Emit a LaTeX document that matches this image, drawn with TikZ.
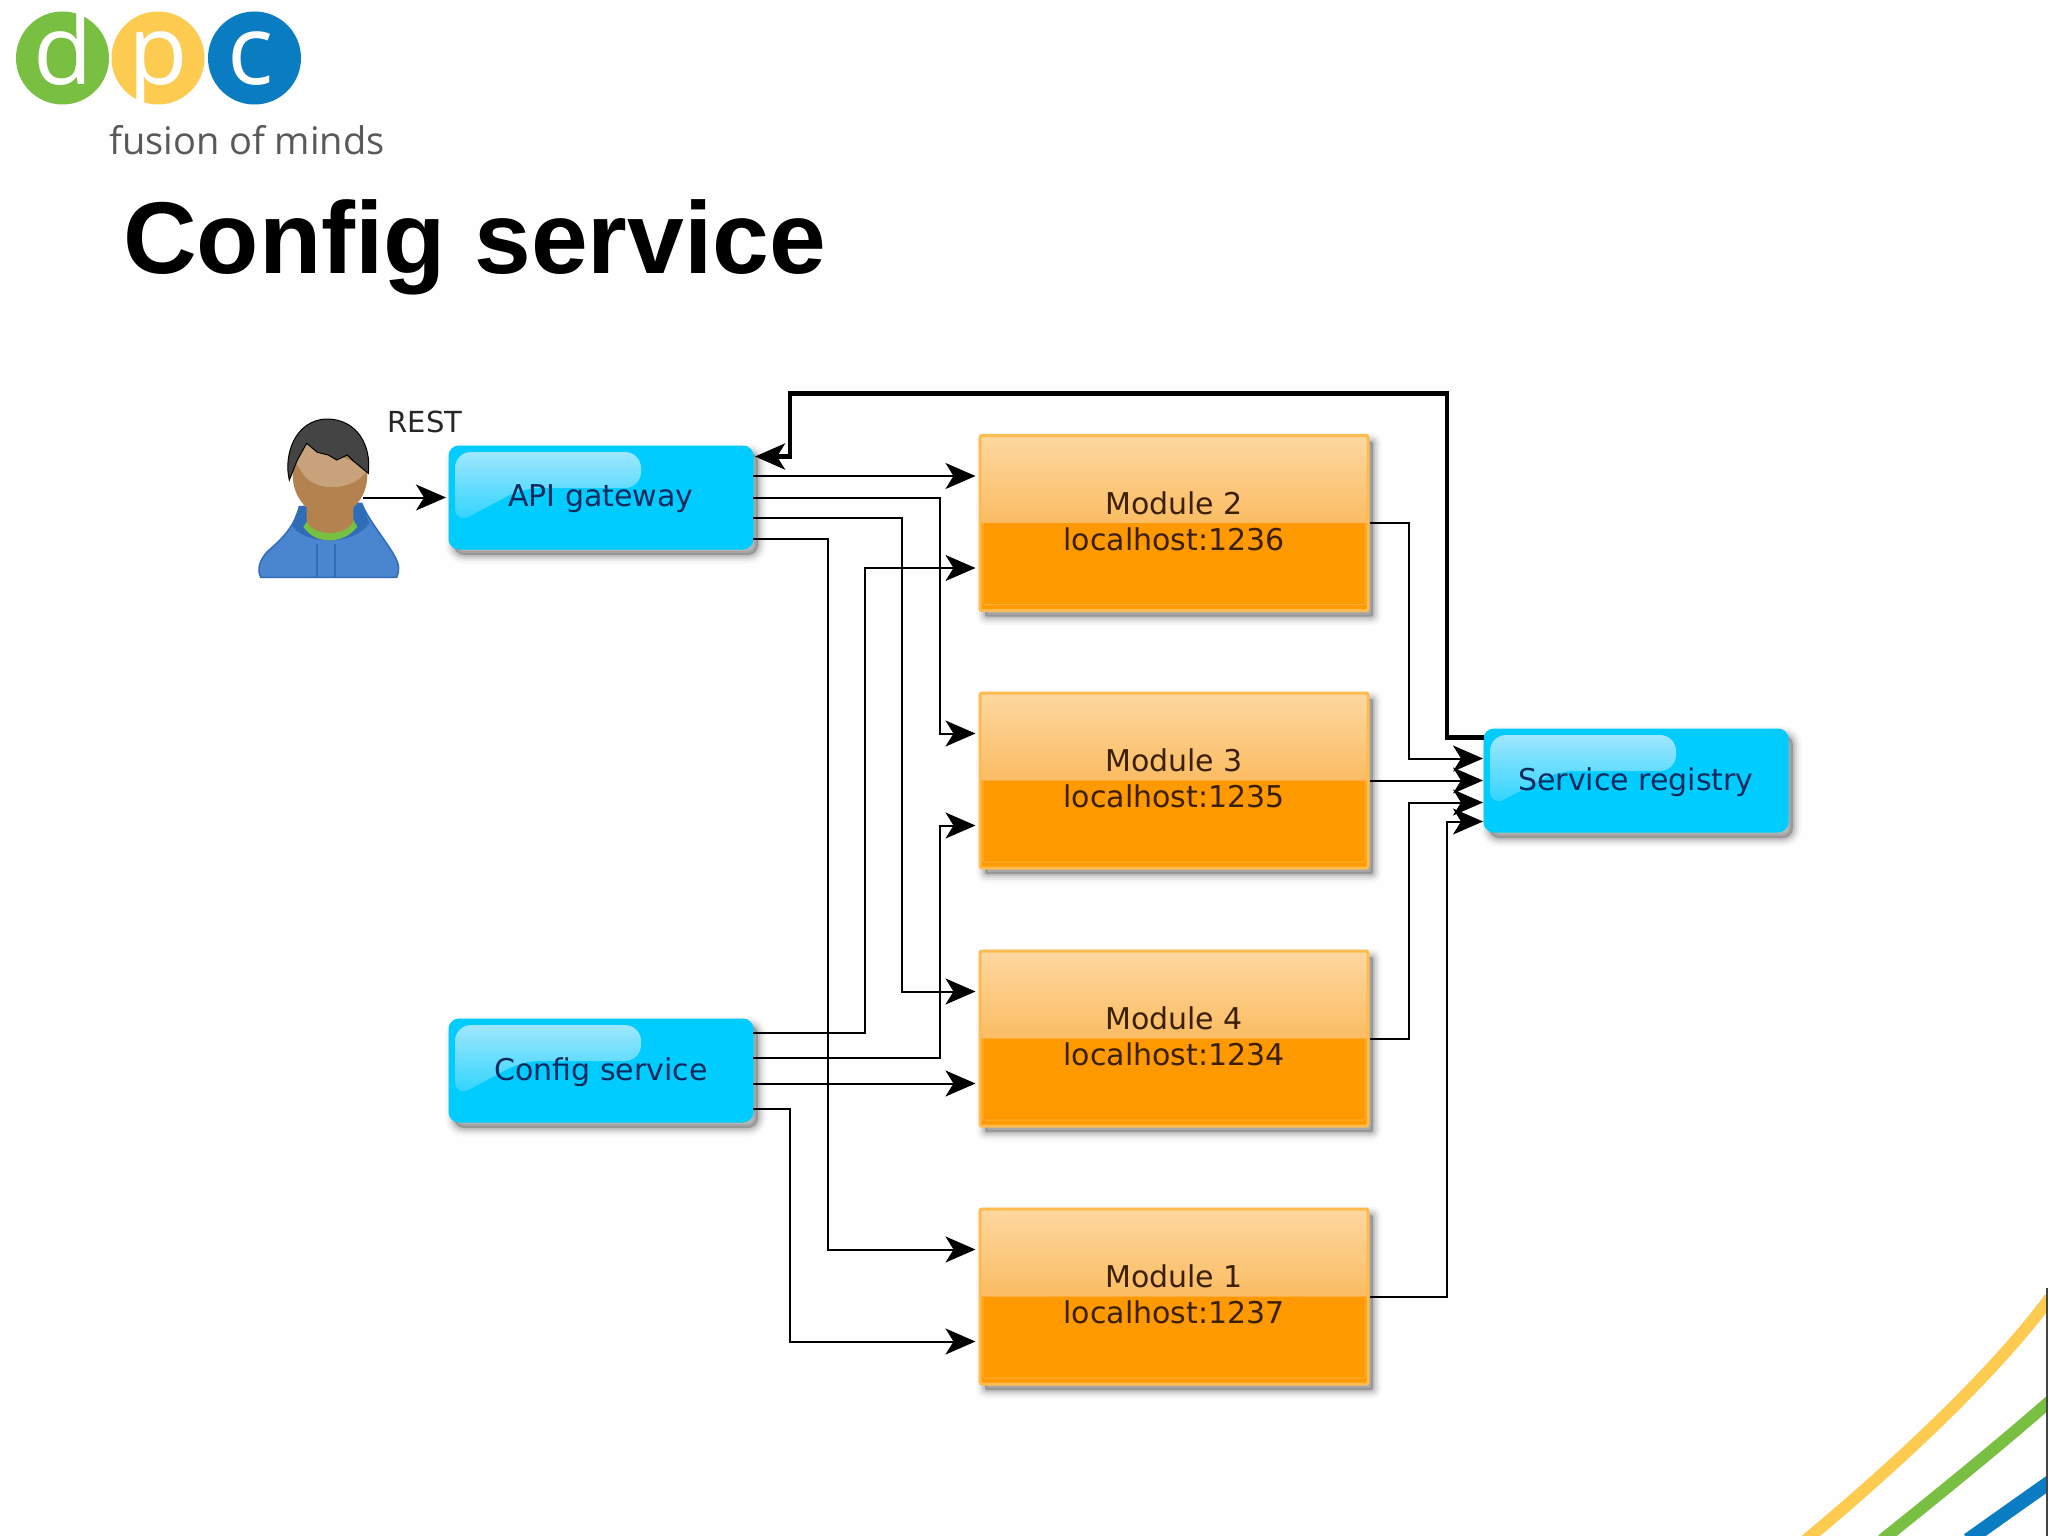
\documentclass[tikz,border=0pt]{standalone}
\usepackage{fontspec}
\usepackage{tikz}
\setmainfont{DejaVu Sans}
\newfontfamily\titlefont{Liberation Sans}
\newfontfamily\logofont{Open Sans}
\usetikzlibrary{arrows.meta,positioning}

\definecolor{pagebg}{HTML}{FEFEFE}
\definecolor{dpcgreen}{HTML}{78BF42}
\definecolor{dpcyellow}{HTML}{FDCB4F}
\definecolor{dpcblue}{HTML}{0A7CC2}
\definecolor{logotext}{HTML}{58595B}
\definecolor{boxcyan}{HTML}{00CCFF}
\definecolor{boxglare}{HTML}{A8E8FD}
\definecolor{boxorange}{HTML}{FF9900}
\definecolor{orangetop}{HTML}{FDD8A0}
\definecolor{orangemid}{HTML}{F9A026}
\definecolor{orangeline}{HTML}{FDBB50}
\definecolor{bluetext}{HTML}{0A2A5E}
\definecolor{browntext}{HTML}{3B2000}
\definecolor{hoodie}{HTML}{4A86CF}
\definecolor{hoodiedark}{HTML}{2F6DB8}
\definecolor{skin}{HTML}{B3824F}
\definecolor{skinlight}{HTML}{C8A27A}
\definecolor{hair}{HTML}{444444}

\begin{document}
\begin{tikzpicture}[x=1pt,y=-1pt,>={Stealth[length=30pt,width=26pt,inset=8pt]}]

  \tikzstyle{softshadow}=[
    preaction={draw=black,fill=black,line width=17pt,opacity=.03,transform canvas={xshift=5pt,yshift=-6pt}},
    preaction={draw=black,fill=black,line width=12pt,opacity=.05,transform canvas={xshift=5pt,yshift=-6pt}},
    preaction={draw=black,fill=black,line width=8pt,opacity=.07,transform canvas={xshift=5pt,yshift=-6pt}},
    preaction={draw=black,fill=black,line width=4pt,opacity=.09,transform canvas={xshift=5pt,yshift=-6pt}}];
  \tikzstyle{BLUE}=[softshadow,rectangle,draw=boxcyan,fill=boxcyan,rounded corners=10pt,line width=1pt,
    minimum width=304pt,minimum height=103pt,align=center,outer sep=0pt,text=bluetext,text depth=3pt,
    font=\fontsize{30}{36}\selectfont,
    path picture={\shade[top color=boxglare,middle color=boxcyan!60!boxglare,bottom color=boxcyan,rounded corners=16pt]
      ([xshift=6pt,yshift=-6pt]path picture bounding box.north west) -- ++(186,0) -- ++(0,36)
      -- ++(-118,0) -- ++(-68,36) -- cycle;}];
  \tikzstyle{MOD}=[softshadow,rectangle,draw=orangeline,fill=boxorange,line width=3pt,rounded corners=2pt,
    minimum width=388pt,minimum height=175pt,align=center,outer sep=1.5pt,text=browntext,text depth=4pt,
    font=\fontsize{30}{36}\selectfont,
    path picture={\shade[top color=orangetop,bottom color=orangemid]
      (path picture bounding box.north west) rectangle (path picture bounding box.east);
      \draw[orangeline!70!boxorange,line width=1pt] ([xshift=3pt]path picture bounding box.west)
      |- ([xshift=-3pt,yshift=6pt]path picture bounding box.south east) -- ([xshift=-3pt]path picture bounding box.east);}];
  \tikzstyle{conn}=[draw=black,line width=2pt,->,shorten >=3pt];
  \tikzstyle{CONNB}=[draw=black,line width=4.5pt,->,shorten >=2pt];

  \useasboundingbox (0,0) rectangle (2048,1536);
  \fill[pagebg] (0,0) rectangle (2048,1536);

  %% logo
  \fill[dpcgreen] (62.5,58) circle (46.5);
  \fill[dpcyellow] (158,58) circle (46.5);
  \fill[dpcblue] (254.5,58) circle (46.5);
  \node [anchor=base,inner sep=0pt,text=white,font=\logofont\fontsize{97}{97}\selectfont] (logod) at (63,85) {d};
  \node [anchor=base,inner sep=0pt,text=white,font=\logofont\fontsize{97}{97}\selectfont] (logop) at (158,85) {p};
  \node [anchor=base,inner sep=0pt,text=white,font=\logofont\fontsize{97}{97}\selectfont] (logoc) at (251,85) {c};
  \node [anchor=base west,inner sep=0pt,text=logotext,font=\logofont\fontsize{38}{38}\selectfont] (slogan) at (109,154) {fusion of minds};

  \node [anchor=base west,inner sep=0pt,font=\titlefont\bfseries\fontsize{102}{110}\selectfont] (title) at (123,273) {Config service};

  %% corner lines
  \draw[dpcyellow,line width=12pt] (1806,1540) .. controls (1878,1480) and (1985,1385) .. (2050,1298);
  \draw[dpcgreen,line width=12pt] (1882,1540) .. controls (1932,1500) and (2000,1445) .. (2050,1401);
  \draw[dpcblue,line width=14pt] (1968,1540) .. controls (1992,1523) and (2020,1503) .. (2050,1482);
  \draw[hair,line width=2pt] (2047,1288) -- (2047,1536);

  %% user
  \begin{scope}[shift={(240,405)},x=.3333pt,y=-.3333pt]
    \fill[hoodie,draw=hoodiedark,line width=1.5pt] (62,517) .. controls (50,490) and (60,465) .. (82,440)
      .. controls (110,415) and (165,370) .. (178,305) -- (365,295) .. controls (385,345) and (440,410) .. (462,450)
      .. controls (480,480) and (478,500) .. (470,517) -- cycle;
    \fill[hoodiedark] (178,305) -- (155,360) .. controls (190,420) and (340,425) .. (388,355) -- (365,295) -- cycle;
    \draw[hoodiedark,line width=2pt] (230,418) -- (230,515) (285,418) -- (285,515);
    \fill[dpcgreen] (190,365) .. controls (225,420) and (310,420) .. (352,365) -- (340,345) -- (205,345) -- cycle;
    \fill[skin] (200,290) -- (200,350) .. controls (225,395) and (315,395) .. (340,350) -- (340,290) -- cycle;
    \fill[skin] (270,210) ellipse (112 and 125);
    \fill[skinlight] (165,170) -- (200,110) -- (385,190) .. controls (350,255) and (240,265) .. (195,215) -- cycle;
    \fill[hair,draw=black,line width=1pt] (148,225) .. controls (130,150) and (165,45) .. (260,42)
      .. controls (350,42) and (395,120) .. (385,205) -- (340,168) -- (322,150) -- (290,165) -- (265,150) -- (232,142)
      -- (200,115) -- (172,165) -- cycle;
  \end{scope}
  \coordinate (user) at (363,497.5);
  \node [inner sep=0pt,text=black!85,font=\fontsize{29}{32}\selectfont] (rest) at (425,422) {REST};

  %% boxes
  \node [BLUE] (api) at (601,497.5) {API gateway};
  \node [BLUE] (cfg) at (601,1070.5) {Config service};

  \node [MOD] (m2) at (1174,523) {Module 2\\localhost:1236};
  \node [MOD,below=79.5pt of m2] (m3) {Module 3\\localhost:1235};
  \node [MOD,below=80pt of m3] (m4) {Module 4\\localhost:1234};
  \node [MOD,below=80pt of m4] (m1) {Module 1\\localhost:1237};

  \node [BLUE,right=114.5pt of m3] (reg) {Service registry};

  %% gateway to modules
  \draw[conn] (user) -- (api.west);
  \draw[conn] ([yshift=21.5pt]api.east) -- ([yshift=47pt]m2.west);
  \draw[conn] (api.east) -- ++(187,0) |- ([yshift=47pt]m3.west);
  \draw[conn] ([yshift=-20pt]api.east) -- ++(149,0) |- ([yshift=47pt]m4.west);
  \draw[conn] ([yshift=-41pt]api.east) -- ++(75,0) |- ([yshift=47pt]m1.west);

  %% config service to modules
  \draw[conn] ([yshift=38pt]cfg.east) -- ++(112,0) |- ([yshift=-45pt]m2.west);
  \draw[conn] ([yshift=13pt]cfg.east) -- ++(187,0) |- ([yshift=-45pt]m3.west);
  \draw[conn] ([yshift=-13pt]cfg.east) -- ([yshift=-45pt]m4.west);
  \draw[conn] ([yshift=-38pt]cfg.east) -- ++(37,0) |- ([yshift=-45pt]m1.west);

  %% modules to registry
  \draw[conn,shorten >=1pt] (m2.east) -- ++(39,0) |- ([yshift=22pt]reg.west);
  \draw[conn,shorten >=1pt] (m3.east) -- (reg.west);
  \draw[conn,shorten >=1pt] (m4.east) -- ++(39,0) |- ([yshift=-22pt]reg.west);
  \draw[conn,shorten >=1pt] (m1.east) -- ++(77,0) |- ([yshift=-41pt]reg.west);

  %% registry back to gateway
  \draw[CONNB] ([yshift=43pt]reg.west) -- ++(-37,0) -- ++(0,-344) -- ++(-657,0) |- ([yshift=41pt]api.east);

\end{tikzpicture}
\end{document}
